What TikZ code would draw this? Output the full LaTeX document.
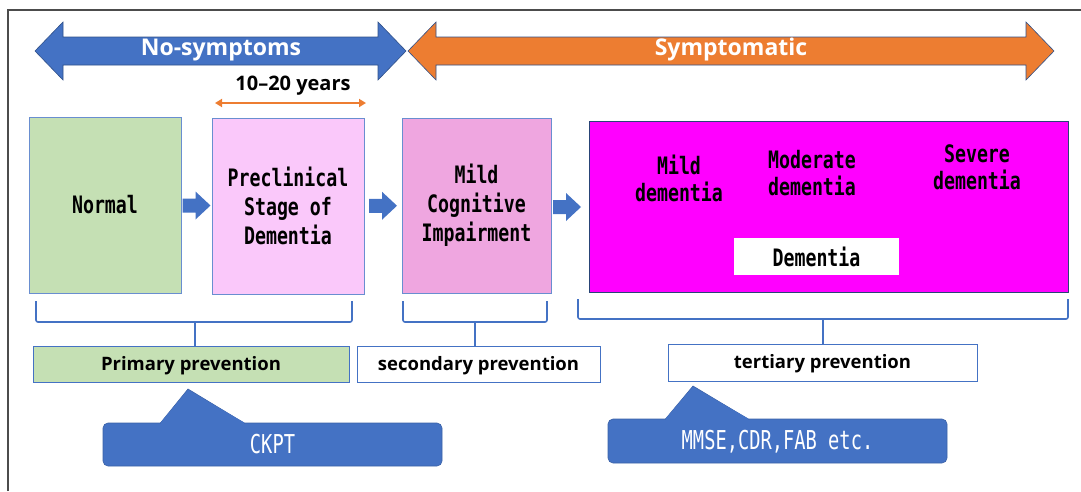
\documentclass[tikz,border=0pt]{standalone}
\usepackage{fontspec}
\setmainfont{Open Sans}
\newfontfamily\gothic[FakeStretch=0.76]{DejaVu Sans Mono}
\newfontfamily\gothicc[FakeStretch=0.72]{DejaVu Sans Mono}
\usetikzlibrary{calc,arrows.meta}
\definecolor{myblue}{HTML}{4472C4}
\definecolor{myorange}{HTML}{ED7D31}
\definecolor{mygreen}{HTML}{C5E0B4}
\definecolor{mypink}{HTML}{FAC8FA}
\definecolor{mymci}{HTML}{EFA6E0}
\definecolor{mymag}{HTML}{FF00FF}
\tikzset{
  stagebox/.style={draw=myblue!80, line width=0.8pt, inner sep=0pt, align=center,
    font=\gothic\bfseries\fontsize{24}{29}\selectfont},
  stagetext/.style={align=center, font=\gothic\bfseries\fontsize{24}{27}\selectfont},
  prevbox/.style={draw=myblue, line width=0.8pt, inner sep=0pt, text height=13pt, text depth=1pt,
    font=\bfseries\fontsize{18.5}{22}\selectfont},
  callout/.style={fill=myblue, draw=myblue!85!black, line width=0.6pt, rounded corners=5pt,
    inner sep=0pt, text height=17pt, text depth=0pt, text=white, font=\gothicc\fontsize{26}{28}\selectfont},
  bracket/.style={draw=myblue, line width=1.6pt, rounded corners=2pt},
  bigarrow/.style={draw=myblue!70!black, line width=0.6pt},
  barrow/.pic={\fill[myblue] (-14,-7)--(-1,-7)--(-1,-14)--(14,0)--(-1,14)--(-1,7)--(-14,7)--cycle;}
}
\begin{document}
\begin{tikzpicture}[x=1pt,y=-1pt]
\useasboundingbox (0,0) rectangle (1081,491);
\draw[line width=1.5pt, black!70] (8,491) -- (8,10) -- (1081,10);

% big arrows
\filldraw[bigarrow, fill=myblue] (35,51) -- (63,22) -- (63,37) -- (378,37) -- (378,22) -- (406,51)
  -- (378,80) -- (378,65) -- (63,65) -- (63,80) -- cycle;
\node[text=white, font=\bfseries\fontsize{23}{28}\selectfont] (nosym) at (221,50) {No-symptoms};
\filldraw[bigarrow, fill=myorange] (408,51) -- (436,22) -- (436,37) -- (1026,37) -- (1026,22) -- (1054,51)
  -- (1026,80) -- (1026,65) -- (436,65) -- (436,80) -- cycle;
\node[text=white, font=\bfseries\fontsize{23}{28}\selectfont] (sym) at (731,50) {Symptomatic};

% 10-20 years
\node[font=\bfseries\fontsize{20}{24}\selectfont] (years) at (293,86) {10--20 years};
\coordinate (yl) at (215,103);
\coordinate (yr) at (366,103);
\draw[myorange, line width=2.2pt, {Triangle[length=7pt,width=8pt]}-{Triangle[length=7pt,width=8pt]}] (yl) -- (yr);

% stage boxes
\node[stagebox, fill=mygreen, minimum width=152pt, minimum height=176pt] (normal) at (105,205) {Normal};
\node[stagebox, fill=mypink, minimum width=152pt, minimum height=176pt] (pre) at (288,206) {Preclinical\\Stage of\\Dementia};
\node[stagebox, fill=mymci, minimum width=149pt, minimum height=175pt] (mci) at (476.5,205.5) {Mild\\Cognitive\\Impairment};
\node[stagebox, fill=mymag, draw=myblue!60!black, minimum width=479pt, minimum height=171pt] (dem) at (828.5,206.5) {};
\node[stagetext] (mild) at (679,178) {Mild\\dementia};
\node[stagetext] (mod) at (812,173) {Moderate\\dementia};
\node[stagetext] (sev) at (977,167) {Severe\\dementia};
\node[fill=white, inner sep=0pt, minimum width=165pt, minimum height=37pt, font=\gothic\bfseries\fontsize{24}{27}\selectfont] (demlab) at (816.5,256.5) {Dementia};

% small block arrows
\path ($(normal.east)!0.5!(pre.west)$) pic {barrow};
\path ($(pre.east)!0.5!(mci.west)$) pic {barrow};
\path ($(mci.east)!0.5!(dem.west)+(-3,1)$) pic {barrow};

% prevention boxes
\node[prevbox, fill=mygreen, minimum width=316pt, minimum height=36pt] (prim) at (191,364) {Primary prevention};
\node[prevbox, fill=white, minimum width=243pt, minimum height=36pt] (sec) at (478.5,364) {secondary prevention};
\node[prevbox, fill=white, minimum width=309pt, minimum height=37pt] (ter) at (822.5,362.5) {tertiary prevention};

% brackets
\draw[bracket] (36,301) -- (36,322) -- (352,322) -- (352,301);
\draw[myblue, line width=1.6pt] (prim.north -| 195,0) -- (195,322);
\draw[bracket] (403,301) -- (403,322) -- (547,322) -- (547,301);
\draw[myblue, line width=1.6pt] (sec.north -| 475,0) -- (475,322);
\draw[bracket] (578,299) -- (578,319) -- (1068,319) -- (1068,299);
\draw[myblue, line width=1.6pt] (ter.north -| 823,0) -- (823,319);

% callouts
\node[callout, minimum width=339pt, minimum height=43pt] (ckpt) at (272.5,444.5) {CKPT};
\filldraw[fill=myblue, draw=myblue!85!black, line width=0.6pt] (160,423.5) -- (188,389) -- (245,423.5);
\fill[myblue] (160.8,422.5) -- (188,390) -- (244.2,422.5) -- (244.2,425) -- (160.8,425) -- cycle;

\node[callout, minimum width=339pt, minimum height=44pt] (mmse) at (777.5,441) {MMSE,CDR,FAB etc.};
\filldraw[fill=myblue, draw=myblue!85!black, line width=0.6pt] (665,419.5) -- (693,386) -- (749,419.5);
\fill[myblue] (665.8,418.5) -- (693,387) -- (748.2,418.5) -- (748.2,421) -- (665.8,421) -- cycle;
\end{tikzpicture}
\end{document}
